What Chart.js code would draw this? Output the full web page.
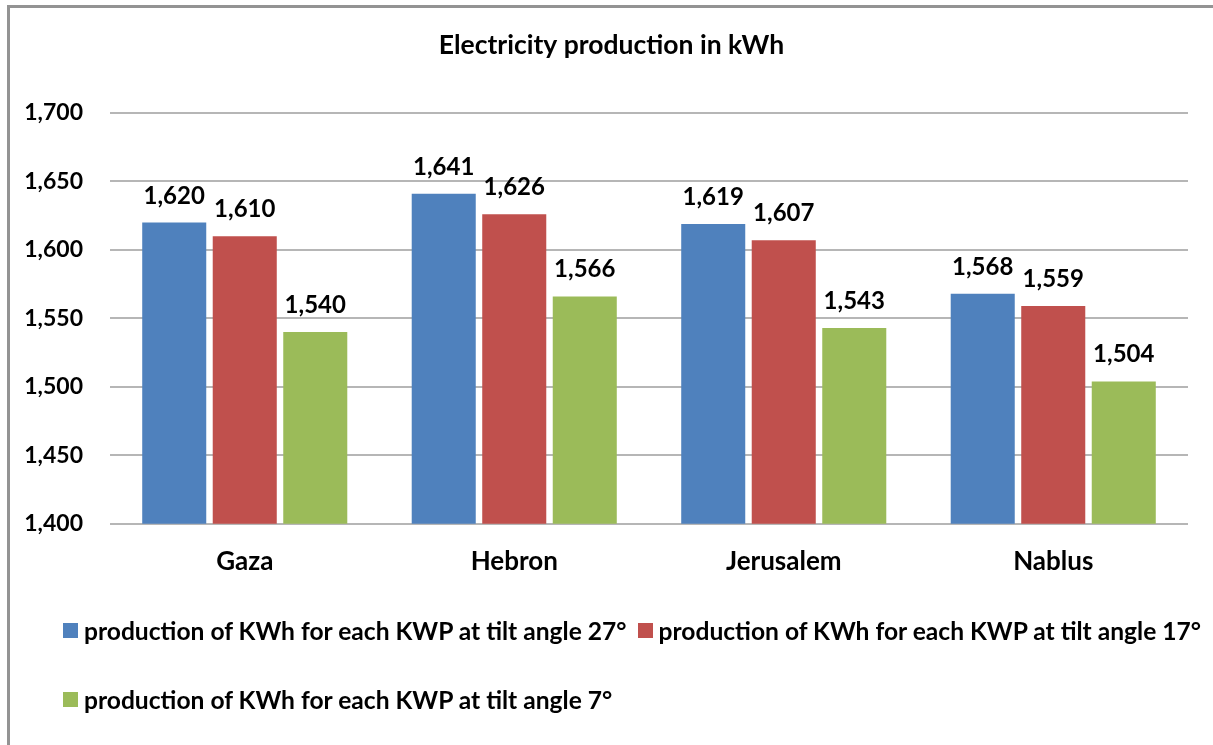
<!DOCTYPE html>
<html>
<head>
<meta charset="utf-8">
<title>Electricity production in kWh</title>
<script src="https://cdn.jsdelivr.net/npm/chart.js@4/dist/chart.umd.min.js"></script>
<style>
  html, body { margin: 0; padding: 0; background: #fff; }
  #wrap { position: relative; width: 1213px; height: 745px; overflow: hidden; }
  #chart { position: absolute; left: 0; top: 0; }
  #frame {
    position: absolute; left: 7px; top: 5px; width: 1400px; height: 1000px;
    border-top: 3px solid #939393; border-left: 3px solid #939393;
    pointer-events: none;
  }
  #legend {
    position: absolute; left: 63px; top: 616px; width: 1150px;
    display: flex; flex-wrap: wrap; column-gap: 11px; row-gap: 41px;
    font-family: Lato, "Open Sans", sans-serif; font-weight: 700; font-size: 24.6px; color: #000;
  }
  .item { display: flex; align-items: center; height: 28px; white-space: nowrap; }
  .box { width: 15px; height: 15px; margin-right: 6px; flex: none; }
</style>
</head>
<body>
<div id="wrap">
  <canvas id="chart" width="1213" height="745"></canvas>
  <div id="frame"></div>
  <div id="legend"></div>
</div>
<script>
// Annual electricity yield per installed kWp for four cities
const cities = ['Gaza', 'Hebron', 'Jerusalem', 'Nablus'];
const tilt27 = [1620, 1641, 1619, 1568];
const tilt17 = [1610, 1626, 1607, 1559];
const tilt7 = [1540, 1566, 1543, 1504];
const seriesNames = [
  'production of KWh for each KWP at tilt angle 27°',
  'production of KWh for each KWP at tilt angle 17°',
  'production of KWh for each KWP at tilt angle 7°'
];
const seriesColors = ['#4F81BD', '#C0504D', '#9BBB59'];
const yTicks = [1400, 1450, 1500, 1550, 1600, 1650, 1700];
const chartTitle = 'Electricity production in kWh';

const FONT = 'Lato, "Open Sans", sans-serif';
const fmt = v => Number(v).toLocaleString('en-US');

// Title centred on the outer chart frame (which extends past the right edge)
const frameTitle = {
  id: 'frameTitle',
  afterDraw(chart) {
    const ctx = chart.ctx;
    ctx.save();
    ctx.font = '700 26.5px ' + FONT;
    ctx.fillStyle = '#000';
    ctx.textAlign = 'center';
    ctx.textBaseline = 'middle';
    ctx.fillText(chartTitle, chart.width / 2 + 5, 45);
    ctx.restore();
  }
};

// Value labels above each bar
const valueLabels = {
  id: 'valueLabels',
  afterDatasetsDraw(chart) {
    const ctx = chart.ctx;
    ctx.save();
    ctx.font = '700 24px ' + FONT;
    ctx.fillStyle = '#000';
    ctx.textAlign = 'center';
    ctx.textBaseline = 'alphabetic';
    chart.data.datasets.forEach((ds, i) => {
      chart.getDatasetMeta(i).data.forEach((bar, j) => {
        ctx.fillText(fmt(ds.data[j]), bar.x, bar.y - 19);
      });
    });
    ctx.restore();
  }
};

// Legend rendered as HTML below the canvas plot
const htmlLegend = {
  id: 'htmlLegend',
  afterUpdate(chart) {
    const host = document.getElementById('legend');
    host.innerHTML = '';
    chart.data.datasets.forEach(ds => {
      const item = document.createElement('div');
      item.className = 'item';
      const box = document.createElement('span');
      box.className = 'box';
      box.style.background = ds.backgroundColor;
      const txt = document.createElement('span');
      txt.textContent = ds.label;
      item.appendChild(box);
      item.appendChild(txt);
      host.appendChild(item);
    });
  }
};

const seriesValues = [tilt27, tilt17, tilt7];

new Chart(document.getElementById('chart'), {
  type: 'bar',
  data: {
    labels: cities,
    datasets: seriesValues.map((vals, i) => ({
      label: seriesNames[i],
      data: vals,
      backgroundColor: seriesColors[i],
      borderWidth: 0,
      categoryPercentage: 0.785,
      barPercentage: 0.908
    }))
  },
  options: {
    responsive: false,
    animation: false,
    events: [],
    layout: { padding: { left: 0, right: 25, top: 113, bottom: 146 } },
    plugins: {
      legend: { display: false },
      tooltip: { enabled: false },
      title: { display: false }
    },
    scales: {
      x: {
        grid: { display: false, drawTicks: false },
        border: { display: false },
        ticks: {
          color: '#000',
          padding: 22,
          font: { family: FONT, size: 26, weight: '700', lineHeight: 1.2 }
        }
      },
      y: {
        min: yTicks[0],
        max: yTicks[yTicks.length - 1],
        afterBuildTicks(scale) { scale.ticks = yTicks.map(v => ({ value: v })); },
        afterFit(scale) { scale.width = 110; },
        grid: { color: '#b6b6b6', lineWidth: 2, drawTicks: false },
        border: { display: false },
        ticks: {
          color: '#000',
          padding: 27,
          font: { family: FONT, size: 23, weight: '700', lineHeight: 1.2 },
          callback: v => fmt(v)
        }
      }
    }
  },
  plugins: [frameTitle, valueLabels, htmlLegend]
});
</script>
</body>
</html>
